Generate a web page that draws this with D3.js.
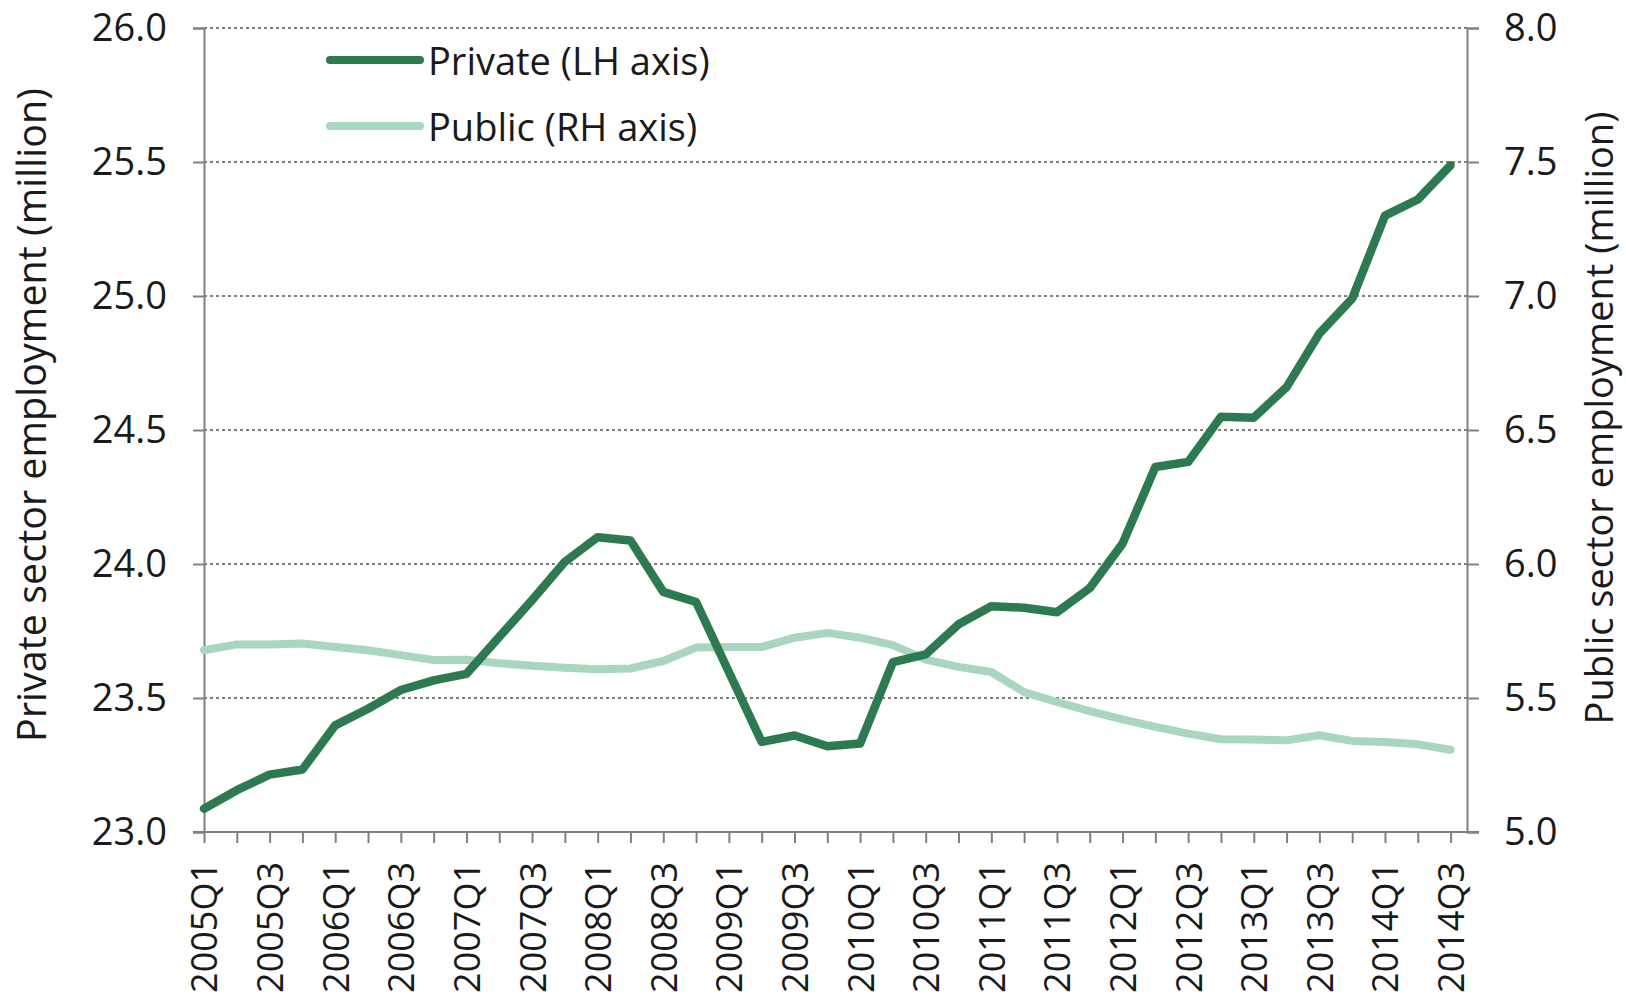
<!DOCTYPE html>
<html>
<head>
<meta charset="utf-8">
<script src="https://cdn.jsdelivr.net/npm/d3@7"></script>
<style>
  html, body { margin: 0; padding: 0; background: #fff; }
  svg { display: block; }
  text { font-family: "Open Sans", "Noto Sans", sans-serif; fill: #1a1a1a; }
</style>
</head>
<body>
<svg id="chart" width="1626" height="1000"></svg>
<script>
const quarters = [
  "2005Q1","2005Q2","2005Q3","2005Q4",
  "2006Q1","2006Q2","2006Q3","2006Q4",
  "2007Q1","2007Q2","2007Q3","2007Q4",
  "2008Q1","2008Q2","2008Q3","2008Q4",
  "2009Q1","2009Q2","2009Q3","2009Q4",
  "2010Q1","2010Q2","2010Q3","2010Q4",
  "2011Q1","2011Q2","2011Q3","2011Q4",
  "2012Q1","2012Q2","2012Q3","2012Q4",
  "2013Q1","2013Q2","2013Q3","2013Q4",
  "2014Q1","2014Q2","2014Q3"
];
const privateSeries = [
  23.087, 23.156, 23.214, 23.233,
  23.398, 23.460, 23.530, 23.566,
  23.590, 23.728, 23.865, 24.008,
  24.100, 24.088, 23.896, 23.858,
  23.597, 23.336, 23.360, 23.320,
  23.330, 23.634, 23.663, 23.775,
  23.842, 23.837, 23.820, 23.910,
  24.076, 24.362, 24.381, 24.549,
  24.546, 24.660, 24.860, 24.990,
  25.300, 25.360, 25.488
];
const publicSeries = [
  5.678, 5.700, 5.700, 5.703,
  5.690, 5.678, 5.660, 5.642,
  5.643, 5.630, 5.620, 5.613,
  5.607, 5.610, 5.638, 5.688,
  5.690, 5.690, 5.725, 5.743,
  5.725, 5.697, 5.643, 5.616,
  5.597, 5.522, 5.485, 5.451,
  5.420, 5.392, 5.367, 5.346,
  5.345, 5.342, 5.361, 5.340,
  5.336, 5.327, 5.307
];
const leftTicks = [23.0, 23.5, 24.0, 24.5, 25.0, 25.5, 26.0];
const rightTicks = [5.0, 5.5, 6.0, 6.5, 7.0, 7.5, 8.0];
const seriesNames = ["Private (LH axis)", "Public (RH axis)"];
const leftTitle = "Private sector employment (million)";
const rightTitle = "Public sector employment (million)";

const svg = d3.select("#chart");
const plotLeft = 204, plotRight = 1467, plotTop = 28, plotBottom = 832;
const darkGreen = "#2e7a50", lightGreen = "#a9d6be";
const axisColor = "#808080";

const x = d3.scaleLinear().domain([0, quarters.length - 0.5]).range([plotLeft, plotRight]);
const yL = d3.scaleLinear().domain([23, 26]).range([plotBottom, plotTop]);
const yR = d3.scaleLinear().domain([5, 8]).range([plotBottom, plotTop]);

// gridlines
svg.append("g").selectAll("line").data(leftTicks.slice(1)).join("line")
  .attr("x1", plotLeft).attr("x2", plotRight)
  .attr("y1", d => yL(d)).attr("y2", d => yL(d))
  .attr("stroke", "#555").attr("stroke-width", 1.6)
  .attr("stroke-dasharray", "3,3");

// left axis
const la = svg.append("g").attr("transform", `translate(${plotLeft},0)`)
  .call(d3.axisLeft(yL).tickValues(leftTicks).tickSize(11).tickPadding(26).tickFormat(d3.format(".1f")));
// right axis
const ra = svg.append("g").attr("transform", `translate(${plotRight},0)`)
  .call(d3.axisRight(yR).tickValues(rightTicks).tickSize(12).tickPadding(25).tickFormat(d3.format(".1f")));
// bottom axis
const idx = d3.range(quarters.length);
const ba = svg.append("g").attr("transform", `translate(0,${plotBottom})`)
  .call(d3.axisBottom(x).tickValues(idx).tickSize(11).tickFormat(i => i % 2 === 0 ? quarters[i] : ""));
ba.select(".domain").attr("d", `M${plotLeft - 11},0H${plotRight + 12}`);

[la, ra, ba].forEach(g => {
  g.select(".domain").attr("stroke", axisColor).attr("stroke-width", 2);
  g.selectAll(".tick line").attr("stroke", axisColor).attr("stroke-width", 2);
  g.selectAll("text").attr("font-size", 38).attr("font-family", "'Open Sans', sans-serif").attr("fill", "#1a1a1a");
});
ba.selectAll(".tick text")
  .attr("font-size", 36)
  .attr("transform", "rotate(-90)")
  .attr("text-anchor", "end")
  .attr("x", -30).attr("y", 0).attr("dy", "0.36em");

// axis titles
svg.append("text").attr("transform", `translate(31,415) rotate(-90)`)
  .attr("text-anchor", "middle").attr("dominant-baseline", "central")
  .attr("font-size", 39.5).text(leftTitle);
svg.append("text").attr("transform", `translate(1598,418) rotate(-90)`)
  .attr("text-anchor", "middle").attr("dominant-baseline", "central")
  .attr("font-size", 38).text(rightTitle);

// lines
const lineL = d3.line().x((d, i) => x(i)).y(d => yL(d));
const lineR = d3.line().x((d, i) => x(i)).y(d => yR(d));
svg.append("path").datum(publicSeries).attr("d", lineR)
  .attr("fill", "none").attr("stroke", lightGreen).attr("stroke-width", 8)
  .attr("stroke-linejoin", "round").attr("stroke-linecap", "round");
svg.append("path").datum(privateSeries).attr("d", lineL)
  .attr("fill", "none").attr("stroke", darkGreen).attr("stroke-width", 8.5)
  .attr("stroke-linejoin", "round").attr("stroke-linecap", "round");

// legend
const legend = svg.append("g");
const legendRows = [{name: seriesNames[0], color: darkGreen, y: 60}, {name: seriesNames[1], color: lightGreen, y: 126}];
legendRows.forEach(r => {
  legend.append("line").attr("x1", 330).attr("x2", 420).attr("y1", r.y).attr("y2", r.y)
    .attr("stroke", r.color).attr("stroke-width", 8).attr("stroke-linecap", "round");
  legend.append("text").attr("x", 428).attr("y", r.y).attr("dominant-baseline", "central")
    .attr("font-size", 38).text(r.name);
});
</script>
</body>
</html>
